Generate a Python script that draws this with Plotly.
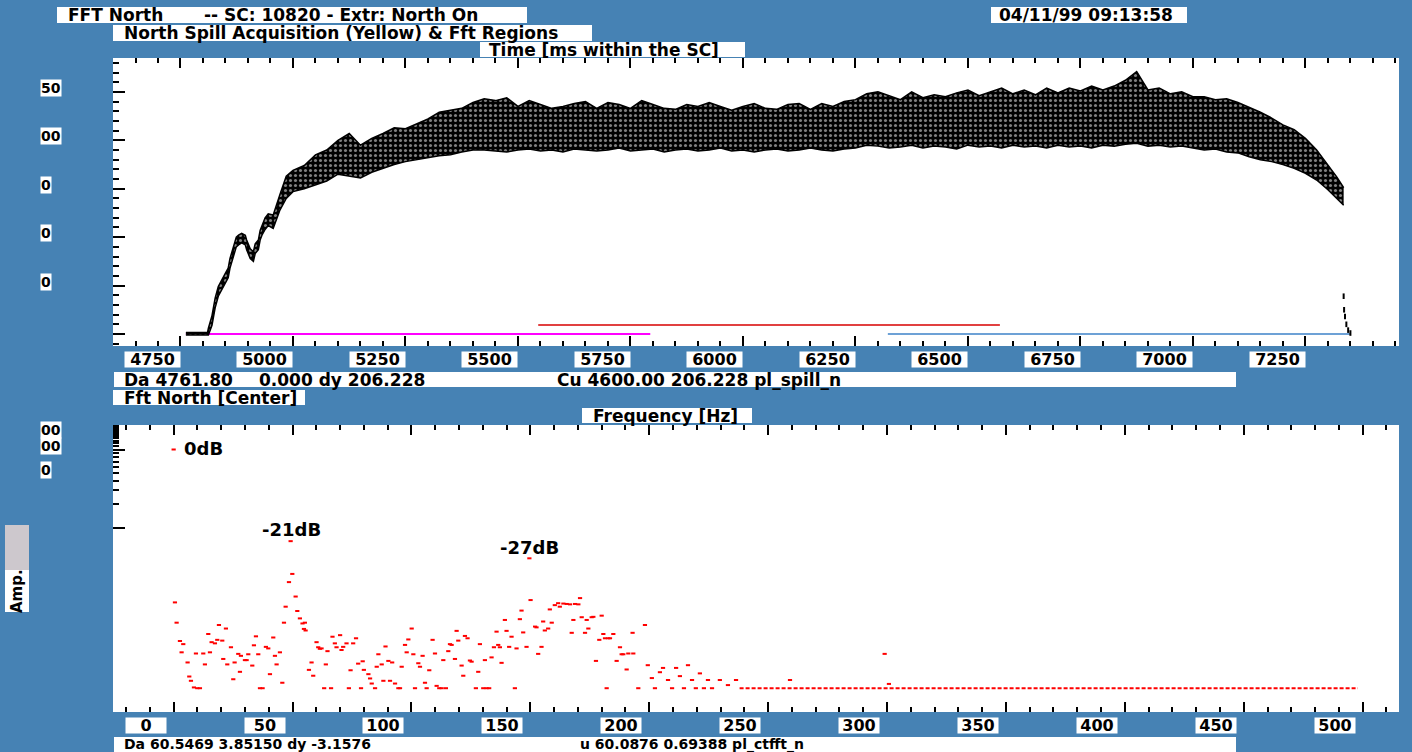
import plotly.graph_objects as go

W, H = 1412, 752
BG = "rgb(70,130,180)"
FONT = "DejaVu Sans"

# ---------------- top panel: spill (ms within the SC) ----------------
rise_t = [4762, 4810, 4812, 4820, 4827, 4834, 4849, 4856, 4860, 4868, 4874, 4879, 4886,
          4894, 4897, 4905, 4912, 4916, 4923, 4927, 4931, 4938, 4945, 4956, 4971, 4985]
rise_hi = [1.5, 1.5, 6, 19, 37, 49, 62, 68, 78, 90, 100, 102, 104,
           102, 97, 88, 85, 93, 97, 107, 112, 120, 124, 123, 144, 163]
rise_lo = [-1, -1, -1, 9, 27, 39, 52, 58, 68, 80, 90, 92, 94,
           92, 87, 78, 75, 83, 87, 97, 102, 108, 112, 109, 128, 140]

plateau_t = list(range(5000, 7301, 25)) + [7320, 7335]
plateau_hi = [169, 174, 185, 190, 200, 207, 195, 202, 207, 213,
              212, 217, 222, 229, 231, 233, 239, 243, 241, 244,
              235, 241, 237, 233, 235, 238, 240, 233, 239, 237,
              233, 241, 237, 233, 232, 237, 235, 239, 235, 231,
              235, 238, 233, 232, 237, 238, 232, 238, 235, 240,
              242, 248, 250, 246, 242, 250, 244, 247, 245, 249,
              252, 246, 250, 254, 248, 252, 247, 254, 249, 254,
              251, 256, 252, 256, 262, 271, 252, 254, 248, 250,
              245, 245, 242, 243, 239, 234, 229, 223, 216, 211,
              202, 190, 175, 162, 151]
plateau_lo = [147, 150, 154, 158, 165, 163, 161, 167, 171, 175,
              178, 180, 182, 184, 185, 188, 190, 190, 189, 188,
              190, 191, 189, 190, 188, 191, 190, 189, 190, 192,
              189, 190, 191, 188, 190, 191, 189, 190, 192, 189,
              190, 188, 190, 191, 189, 190, 192, 190, 189, 191,
              192, 195, 194, 192, 193, 195, 192, 194, 193, 191,
              195, 193, 194, 192, 195, 193, 194, 192, 195, 193,
              194, 192, 195, 194, 196, 197, 194, 195, 193, 194,
              192, 190, 191, 188, 187, 183, 180, 178, 175, 171,
              166, 159, 149, 140, 133]

tail_t = [7335, 7336, 7338, 7341, 7345, 7350]
tail_v = [39, 25, 18, 10, 4, 1]

mag_t, mag_v = [4762, 5794], [0, 0]
red_t, red_v = [5545, 6571], [9.3, 9.3]
blue_t, blue_v = [6322, 7351], [0, 0]

top_ticks = [4750, 5000, 5250, 5500, 5750, 6000, 6250, 6500, 6750, 7000, 7250]
top_y_labels = [(250, "50"), (200, "00"), (150, "0"), (100, "0"), (50, "0")]

# ---------------- bottom panel: FFT (Hz, dB rel. DC) ----------------
fft_f = [0, 0.55, 1.25, 2.65, 3.35, 4.05, 5.87, 6.58, 7.28, 8.54, 9.38, 9.94, 11.06, 12.46,
         13.16, 14.57, 15.27, 15.97, 17.37, 18.35, 19.05, 20.45, 20.87, 21.99, 22.56, 24.1,
         25.08, 25.64, 27.18, 27.88, 28.3, 29.98, 30.69, 31.39, 33.07, 33.77, 34.61, 35.59,
         36.3, 37.41, 38.8, 39.8, 40.5, 41.9, 42.6, 43.3, 44.7, 45.7, 46.4, 47.1, 48.5, 49.2,
         49.9, 51.3, 52.0, 53.1, 54.2, 55.2, 54.8, 55.5, 56.9, 58.0, 58.7, 60.1, 60.8, 61.5,
         62.2, 63.3, 64.0, 64.7, 66.2, 66.8, 67.8, 68.5, 70.0, 70.6, 71.3, 72.7, 73.7, 74.4,
         75.5, 76.7, 77.6, 78.8, 79.5, 80.0, 81.9, 82.6, 83.3, 84.7, 85.4, 86.1, 87.5, 88.2,
         89.1, 90.3, 91.0, 91.9, 93.1, 94.5, 95.2, 95.9, 97.3, 98.0, 98.7, 100.1, 100.8,
         101.5, 102.9, 103.6, 104.7, 105.7, 106.4, 107.5, 108.9, 109.9, 110.6, 111.7, 112.7,
         113.4, 114.5, 115.5, 116.2, 116.9, 118.3, 119.0, 119.7, 121.1, 121.8, 122.5, 123.6,
         124.6, 125.3, 127.1, 128.1, 128.8, 130.2, 130.9, 131.6, 132.7, 133.7, 134.7, 135.8,
         136.5, 137.2, 137.9, 139.3, 140.0, 141.1, 142.1, 143.5, 144.2, 145.6, 146.3, 147.0,
         148.4, 149.6, 150.1, 152.0, 152.6, 153.3, 154.7, 155.4, 156.1, 157.5, 158.2, 159.0,
         160.3, 161.7, 162.4, 163.9, 165.3, 166.7, 167.4, 168.1, 168.8, 170.2, 170.9, 171.6,
         173.0, 173.7, 174.4, 175.8, 176.5, 177.6, 179.0, 180.0, 180.7, 181.4, 182.1, 182.8,
         183.5, 184.9, 186.3, 187.7, 188.4, 189.1, 190.5, 191.2, 193.0, 193.3, 195.4,
         198.2, 199.4, 201.1, 202.4, 204.5, 205.8, 207.9, 209.6, 211.3, 212.9, 214.6, 216.3,
         218.0, 219.6, 221.3, 223.0, 224.7, 226.4, 229.7, 233.1, 236.5, 259.2, 299.0, 300.8]
fft_db = [0, -39.2, -44.4, -49.1, -52.0, -49.9, -54.6, -58.2, -59.3, -61.0, -52.3, -61.2, -61.2, -52.3,
          -55.1, -47.3, -52.0, -49.4, -49.7, -48.8, -45.0, -49.0, -53.7, -45.9, -55.1, -50.7,
          -58.9, -54.6, -52.4, -57.0, -52.9, -54.0, -54.0, -52.5, -55.4, -50.2, -47.9, -52.5,
          -61.2, -61.2, -50.6, -51.0, -57.6, -48.2, -52.9, -55.1, -52.0, -59.8, -44.4, -40.3, -34.0, -23.5,
          -31.9, -37.7, -41.4, -43.3, -44.6, -44.4, -46.0, -46.4, -56.5, -54.6, -58.0, -49.4, -50.7, -51.1,
          -51.0, -61.2, -55.1, -51.7, -61.2, -48.0, -49.7, -50.7, -47.6, -51.4, -50.6, -49.7, -61.2, -56.6,
          -49.7, -48.4, -54.9, -61.2, -54.3, -56.5, -57.6, -58.7, -60.0, -61.2, -55.7, -52.5, -55.1, -59.3,
          -50.5, -54.2, -59.3, -54.6, -60.0, -61.2, -61.2, -55.7, -50.1, -52.0, -48.7, -45.9, -52.5,
          -61.2, -54.8, -55.7, -52.9, -59.8, -61.2, -56.6, -48.8, -52.3, -60.6, -61.2, -61.2,
          -54.0, -61.2, -51.7, -49.9, -50.1, -53.7, -46.5, -49.0, -55.4, -58.0, -47.8, -48.4,
          -54.1, -54.4, -61.2, -57.0, -49.9, -61.2, -54.0, -61.2, -61.2, -53.3, -50.7, -46.7,
          -50.1, -50.7, -54.7, -43.7, -46.5, -50.6, -48.0, -61.2, -51.0, -43.5, -41.3, -46.9,
          -50.6, -27.9, -38.6, -45.4, -45.6, -52.4, -50.6, -44.1, -46.4, -45.9, -41.0, -44.4,
          -39.9, -39.4, -40.3, -39.5, -39.6, -39.7, -47.0, -43.7, -39.6, -39.7, -38.1, -43.0,
          -47.0, -43.7, -45.9, -43.0, -42.9, -54.2, -48.8, -42.6, -47.3, -48.4, -61.2, -48.4,
          -48.4, -47.3, -54.2, -50.7, -52.5, -52.5, -56.4, -52.3, -47.0, -52.3, -61.2,
          -45.0, -55.3, -58.6, -61.2, -57.1, -56.0, -59.1, -61.2, -56.0, -58.1, -61.2, -55.3,
          -59.1, -61.2, -57.4, -61.2, -59.1, -61.2, -59.1, -60.4, -59.1, -59.1, -52.4, -60.1]
floor_f = [238, 498]
floor_db = [-61.2, -61.2]

peak_f = [0, 49.2, 149.6]
peak_db = [0, -23.5, -27.9]
peak_txt = ["0dB", "-21dB", "-27dB"]

bot_ticks = [0, 50, 100, 150, 200, 250, 300, 350, 400, 450, 500]
amp_major_ticks = [0.1, 1]
amp_minor_ticks = [0.2, 0.3, 0.4, 0.5, 0.6, 0.7, 0.8, 0.9,
                   1.1, 1.2, 1.3, 1.4, 1.5, 1.6, 1.7, 1.8, 1.9, 2]


def amp(db):
    return [10 ** (d / 20.0) for d in db]


def px(x):
    return x / W


def py(y):
    return 1 - y / H


fig = go.Figure()

# region lines
fig.add_trace(go.Scatter(x=mag_t, y=mag_v, mode="lines", line=dict(color="#ff00ff", width=2),
                         xaxis="x", yaxis="y"))
fig.add_trace(go.Scatter(x=red_t, y=red_v, mode="lines", line=dict(color="rgb(215,0,0)", width=1.5),
                         xaxis="x", yaxis="y"))
fig.add_trace(go.Scatter(x=blue_t, y=blue_v, mode="lines", line=dict(color="rgb(60,130,200)", width=1.5),
                         xaxis="x", yaxis="y"))

spill_t = rise_t + plateau_t
spill_hi = rise_hi + plateau_hi
spill_lo = rise_lo + plateau_lo
fig.add_trace(go.Scatter(x=spill_t, y=spill_lo, mode="lines", line=dict(color="black", width=1.5),
                         xaxis="x", yaxis="y"))
fig.add_trace(go.Scatter(x=spill_t, y=spill_hi, mode="lines", line=dict(color="black", width=1.5),
                         fill="tonexty", fillcolor="black",
                         fillpattern=dict(shape=".", fgcolor="white", bgcolor="black", size=5, solidity=0.3),
                         xaxis="x", yaxis="y"))
fig.add_trace(go.Scatter(x=tail_t, y=tail_v, mode="markers",
                         marker=dict(symbol="line-ns", size=4, line=dict(color="black", width=2)),
                         xaxis="x", yaxis="y"))

# FFT
fig.add_trace(go.Scatter(x=floor_f, y=amp(floor_db), mode="lines",
                         line=dict(color="red", width=2, dash="4px,2px"), xaxis="x2", yaxis="y2"))
fig.add_trace(go.Scatter(x=fft_f, y=amp(fft_db), mode="markers",
                         marker=dict(symbol="line-ew", size=3, line=dict(color="red", width=2)),
                         xaxis="x2", yaxis="y2"))

ann = []
shapes = []
BF = dict(family=FONT, size=16, color="black", weight="bold")


def box(x0, y0, x1, y1):
    shapes.append(dict(type="rect", xref="paper", yref="paper", x0=px(x0), x1=px(x1),
                       y0=py(y1), y1=py(y0), fillcolor="white", line=dict(width=0), layer="above"))


def text(x, y, s, size=17, anchor="left"):
    f = dict(BF)
    f["size"] = size
    ann.append(dict(xref="paper", yref="paper", x=px(x), y=py(y), text=s, showarrow=False,
                    xanchor=anchor, yanchor="middle", font=f))


# header boxes
box(57, 7, 527, 23)
text(66, 15, "FFT North")
text(202, 15, "-- SC: 10820 - Extr: North On")
box(991, 7, 1187, 23)
text(997, 15, "04/11/99 09:13:58")
box(113, 25, 592, 41)
text(122, 33, "North Spill Acquisition (Yellow) & Fft Regions")
box(480, 42, 745, 57)
text(487, 50, "Time [ms within the SC]")

# middle boxes
box(114, 372, 1236, 387)
text(122, 380, "Da 4761.80")
text(257, 380, "0.000 dy 206.228")
text(555, 380, "Cu 4600.00 206.228 pl_spill_n")
box(113, 390, 305, 405)
text(122, 398, "Fft North [Center]")
box(582, 408, 752, 423)
text(591, 416, "Frequency [Hz]")

# bottom box (at the window edge)
box(114, 737, 1236, 760)
text(122, 744, "Da 60.5469 3.85150 dy -3.1576", size=14)
text(578, 744, "u 60.0876 0.69388 pl_ctfft_n", size=14)

# Amp. label
shapes.append(dict(type="rect", xref="paper", yref="paper", x0=px(5), x1=px(29), y0=py(570), y1=py(525),
                   fillcolor="rgb(205,200,205)", line=dict(width=0)))
box(5, 570, 29, 612)
ann.append(dict(xref="paper", yref="paper", x=px(17), y=py(591), text="Amp.", showarrow=False,
                textangle=-90, xanchor="center", yanchor="middle", font=dict(BF, size=15)))

# x tick labels (boxes offset left of the ticks)
for v in top_ticks:
    ann.append(dict(xref="x", yref="paper", x=v, y=py(359), xshift=-28, text=str(v), showarrow=False,
                    xanchor="center", yanchor="middle", bgcolor="white", width=55, height=15,
                    borderpad=0, font=BF))
for v in bot_ticks:
    ann.append(dict(xref="x2", yref="paper", x=v, y=py(725), xshift=-28, text=str(v), showarrow=False,
                    xanchor="center", yanchor="middle", bgcolor="white", width=40, height=15,
                    borderpad=0, font=BF))
# clipped y labels
for v, s in top_y_labels:
    ann.append(dict(xref="paper", yref="y", x=px(40), y=v, yshift=4, text=s, showarrow=False,
                    xanchor="left", yanchor="middle", bgcolor="white", borderpad=0,
                    font=dict(BF, size=14)))
for y, s in [(430, "00"), (446, "00"), (470, "0")]:
    ann.append(dict(xref="paper", yref="paper", x=px(40), y=py(y), text=s, showarrow=False,
                    xanchor="left", yanchor="middle", bgcolor="white", borderpad=0,
                    font=dict(BF, size=14)))

# peak labels
shifts = [(8, 1, "left"), (1, 12, "center"), (0, 11, "center")]
for f, d, s, (xs, ys, xa) in zip(peak_f, peak_db, peak_txt, shifts):
    ann.append(dict(xref="x2", yref="y2", x=f, y=0 if d == 0 else d / 20.0, xshift=xs, yshift=ys,
                    text=s, showarrow=False, xanchor=xa, yanchor="middle",
                    font=dict(BF, size=18)))

tick_common = dict(showgrid=False, zeroline=False, showticklabels=False, ticks="inside",
                   tickcolor="black", tickwidth=1.5, showline=False)

fig.update_layout(
    width=W, height=H, margin=dict(l=0, r=0, t=0, b=0),
    paper_bgcolor=BG, plot_bgcolor="white", showlegend=False,
    annotations=ann, shapes=shapes,
    xaxis=dict(domain=[px(113), px(1399)], range=[4600, 7458], anchor="y",
               tick0=4750, dtick=250, ticklen=10, mirror="ticks",
               minor=dict(ticks="inside", tick0=4600, dtick=50, ticklen=5, tickcolor="black"),
               **tick_common),
    yaxis=dict(domain=[py(346), py(58)], range=[-12.4, 285], anchor="x",
               tick0=0, dtick=50, ticklen=12,
               minor=dict(ticks="inside", tick0=0, dtick=10, ticklen=6, tickcolor="black"),
               **tick_common),
    xaxis2=dict(domain=[px(113), px(1399)], range=[-25.5, 515.3], anchor="y2",
                tick0=0, dtick=50, ticklen=10, mirror="ticks",
                minor=dict(ticks="inside", tick0=0, dtick=10, ticklen=5, tickcolor="black"),
                **tick_common),
    yaxis2=dict(domain=[py(712), py(425)], type="log", range=[-3.365, 0.314], anchor="x2",
                tickmode="array", tickvals=amp_major_ticks, ticklen=12,
                minor=dict(ticks="inside", tickmode="array", tickvals=amp_minor_ticks,
                           ticklen=6, tickcolor="black"),
                **tick_common),
)

fig.write_html("out.html", config={"displayModeBar": False},
               post_script="document.body.style.margin='0px';document.body.style.overflow='hidden';")
